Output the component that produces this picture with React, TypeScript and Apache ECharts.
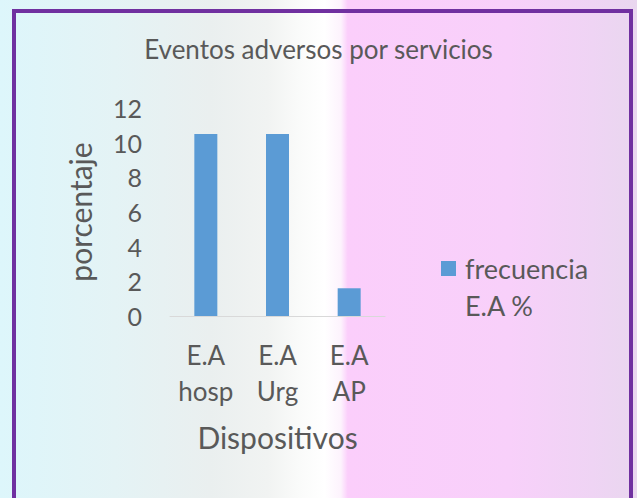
import React, { useEffect, useRef } from "react";
import * as echarts from "echarts";

const categories = ["E.A\nhosp", "E.A\nUrg", "E.A\nAP"];
const values = [10.5, 10.5, 1.6];
const seriesName = "frecuencia E.A %";
const titleText = "Eventos adversos por servicios";
const yAxisName = "porcentaje";
const xAxisName = "Dispositivos";

const FONT = "Lato, 'Open Sans', sans-serif";
const GRAY = "#595959";

export default function App() {
  const ref = useRef<HTMLDivElement>(null);
  useEffect(() => {
    if (!ref.current) return;
    const chart = echarts.init(ref.current, undefined, { renderer: "svg" });
    chart.setOption({
      animation: false,
      backgroundColor: "transparent",
      textStyle: { fontFamily: FONT },
      title: {
        text: titleText,
        left: "center",
        top: 31,
        textStyle: { fontFamily: FONT, fontSize: 26, fontWeight: "normal", color: GRAY },
      },
      legend: {
        orient: "vertical",
        left: 441,
        top: 250,
        padding: 0,
        icon: "path://M0 0H15V15H0Z M0 52L0.001 52Z",
        itemWidth: 15,
        itemHeight: 52,
        symbolKeepAspect: false,
        formatter: () => "frecuencia\nE.A %",
        textStyle: {
          fontFamily: FONT,
          fontSize: 27,
          lineHeight: 37,
          color: GRAY,
          padding: [0, 0, 0, 4],
        },
      },
      grid: { left: 170, top: 108, width: 215, height: 208, containLabel: false },
      xAxis: {
        type: "category",
        data: categories,
        name: xAxisName,
        nameLocation: "middle",
        nameGap: 106,
        nameTextStyle: { fontFamily: FONT, fontSize: 30, color: GRAY },
        axisLine: { lineStyle: { color: "#D9D9D9", width: 1 } },
        axisTick: { show: false },
        axisLabel: { fontFamily: FONT, fontSize: 26, lineHeight: 36, color: GRAY, margin: 21 },
      },
      yAxis: {
        type: "value",
        min: 0,
        max: 12,
        interval: 2,
        name: yAxisName,
        nameLocation: "middle",
        nameRotate: 90,
        nameGap: 75,
        nameTextStyle: { fontFamily: FONT, fontSize: 30, color: GRAY },
        axisLine: { show: false },
        axisTick: { show: false },
        splitLine: { show: false },
        axisLabel: { fontFamily: FONT, fontSize: 25, color: GRAY, margin: 28 },
      },
      series: [
        {
          name: seriesName,
          type: "bar",
          data: values,
          barWidth: 23,
          itemStyle: { color: "#5B9BD5" },
        },
      ],
      graphic: [
        {
          type: "rect",
          shape: { x: 14, y: 11, width: 617, height: 620 },
          style: { fill: "none", stroke: "#7030A0", lineWidth: 4 },
          silent: true,
        },
      ],
    });
    return () => chart.dispose();
  }, []);
  return (
    <div
      style={{
        position: "absolute",
        left: 0,
        top: 0,
        width: 637,
        height: 498,
        overflow: "hidden",
        background:
          "linear-gradient(90deg, #DDF6FB 0%, #E4F3F5 18%, #EAEFEF 33%, #F1F3F2 42%, #FAFBFA 47%, #FFFFFF 51%, #FDF3FD 53.5%, #FBCEFB 54.6%, #F8D0FA 80%, #EFD4F4 93%, #E9D7EF 100%)",
      }}
    >
      <div ref={ref} style={{ width: 637, height: 498 }} />
    </div>
  );
}
